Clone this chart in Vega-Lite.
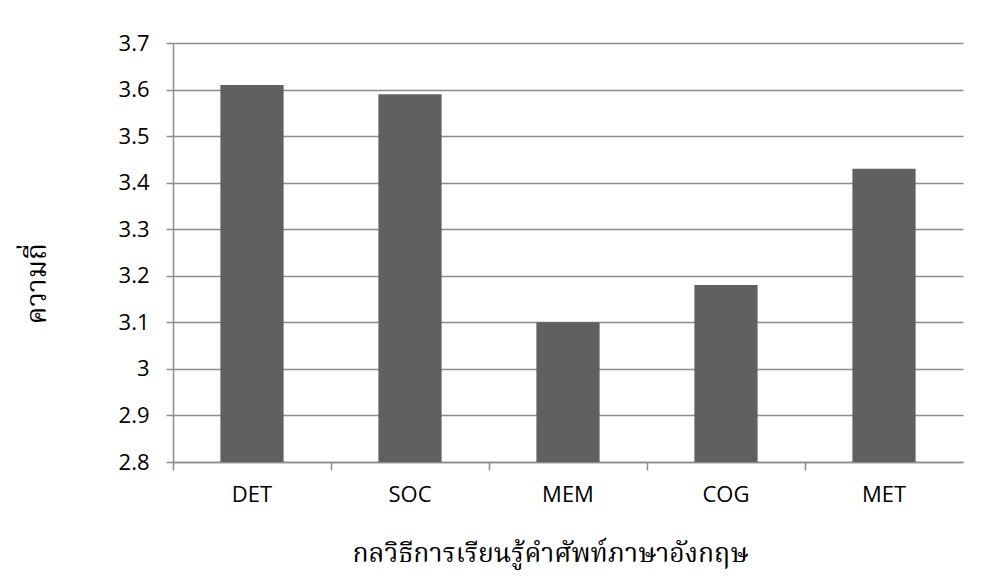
{
  "$schema": "https://vega.github.io/schema/vega-lite/v6.json",
  "width": 790,
  "height": 419,
  "autosize": "none",
  "padding": {"left": 173, "top": 43, "right": 18, "bottom": 117},
  "background": "white",
  "data": {
    "values": [
      {"strategy": "DET", "value": 3.61},
      {"strategy": "SOC", "value": 3.59},
      {"strategy": "MEM", "value": 3.10},
      {"strategy": "COG", "value": 3.18},
      {"strategy": "MET", "value": 3.43}
    ]
  },
  "mark": {"type": "bar", "color": "#606060", "width": {"band": 0.4}, "clip": true},
  "encoding": {
    "x": {
      "field": "strategy",
      "type": "nominal",
      "sort": null,
      "scale": {"paddingInner": 0, "paddingOuter": 0},
      "axis": {
        "title": "กลวิธีการเรียนรู้คำศัพท์ภาษาอังกฤษ",
        "titleFont": "Noto Serif Thai, Noto Sans Thai, serif",
        "titleFontSize": 26.5,
        "titleFontWeight": "normal",
        "titleColor": "#000000",
        "titleX": 377,
        "titleY": 99,
        "titleAlign": "center",
        "titleBaseline": "alphabetic",
        "labelAngle": 0,
        "labelFont": "Open Sans",
        "labelFontSize": 22,
        "labelColor": "#000000",
        "labelPadding": 14,
        "bandPosition": 0,
        "tickColor": "#8c8c8c",
        "tickSize": 8,
        "tickWidth": 1.5,
        "domainColor": "#8c8c8c",
        "domainWidth": 1.5
      }
    },
    "y": {
      "field": "value",
      "type": "quantitative",
      "scale": {"domain": [2.8, 3.7], "zero": false, "nice": false},
      "axis": {
        "title": "ความถี่",
        "titleFont": "Noto Serif Thai, Noto Sans Thai, serif",
        "titleFontSize": 28,
        "titleFontWeight": "normal",
        "titleColor": "#000000",
        "titleAngle": -90,
        "titleX": -128,
        "titleY": 240,
        "titleAlign": "center",
        "titleBaseline": "alphabetic",
        "values": [2.8, 2.9, 3.0, 3.1, 3.2, 3.3, 3.4, 3.5, 3.6, 3.7],
        "labelFont": "Open Sans",
        "labelFontSize": 22,
        "labelColor": "#000000",
        "labelPadding": 17,
        "labelExpr": "datum.value == 3 ? '3' : format(datum.value, '.1f')",
        "tickColor": "#8c8c8c",
        "tickSize": 7,
        "tickWidth": 1.5,
        "domainColor": "#8c8c8c",
        "domainWidth": 1.5,
        "grid": true,
        "gridColor": "#8c8c8c",
        "gridWidth": 1.5
      }
    }
  },
  "config": {"view": {"stroke": null}}
}
